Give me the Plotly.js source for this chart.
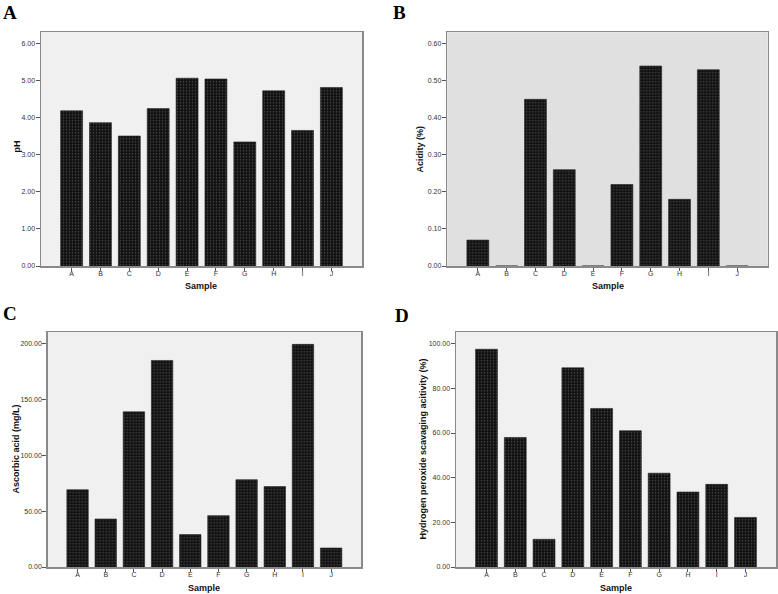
<!DOCTYPE html>
<html>
<head>
<meta charset="utf-8">
<script src="https://cdn.plot.ly/plotly-3.0.1.min.js"></script>
<style>html,body{margin:0;padding:0;background:#fff;}#chart{width:778px;height:594px;}</style>
</head>
<body>
<div id="chart"></div>
<script>
const samples = ["A","B","C","D","E","F","G","H","I","J"];
const phValues = [4.19, 3.87, 3.51, 4.25, 5.07, 5.05, 3.35, 4.73, 3.66, 4.82];
const acidityValues = [0.07, 0.0, 0.45, 0.26, 0.0, 0.22, 0.54, 0.18, 0.53, 0.0];
const ascorbicValues = [69.2, 43.0, 139.0, 185.0, 29.0, 46.0, 78.2, 72.0, 199.4, 17.0];
const peroxideValues = [97.5, 58.0, 12.4, 89.2, 71.0, 61.0, 42.0, 33.6, 37.0, 22.2];
const yTickValsA = [0, 1, 2, 3, 4, 5, 6];
const yTickValsB = [0, 0.1, 0.2, 0.3, 0.4, 0.5, 0.6];
const yTickValsC = [0, 50, 100, 150, 200];
const yTickValsD = [0, 20, 40, 60, 80, 100];
const xTitle = "Sample";
const yTitles = ["pH", "Acidity (%)", "Ascorbic acid (mg/L)", "Hydrogen peroxide scavaging acitivity (%)"];
const panelLetters = ["A", "B", "C", "D"];

const W = 778, H = 594;
const px = v => v / W;
const py = v => 1 - v / H;

function barTrace(vals, xa, ya) {
  return {
    type: 'bar', x: samples, y: vals, xaxis: xa, yaxis: ya, width: 0.76,
    marker: {
      color: '#111111',
      line: {color: '#222', width: 0.6},
      pattern: {shape: '.', fgcolor: '#4c4c4c', bgcolor: '#111111', size: 3, solidity: 0.22}
    },
    hoverinfo: 'skip', showlegend: false
  };
}

const tickFont = {family: 'Liberation Sans, Arial, sans-serif', size: 7, color: '#333'};
const titleFont = {family: 'Liberation Sans, Arial, sans-serif', size: 9, color: '#111', weight: 'bold'};

function xAxis(dom, anchor) {
  return {
    domain: dom, anchor: anchor, type: 'category', range: [-1.06, 10.06],
    showline: true, linecolor: '#8a8a8a', linewidth: 1.5, mirror: true,
    ticks: 'outside', ticklen: 3, tickcolor: '#555', tickwidth: 1,
    ticklabelstandoff: -3,
    showgrid: false, zeroline: false, tickfont: tickFont
  };
}
function yAxis(dom, anchor, range, tv) {
  return {
    domain: dom, anchor: anchor, range: range, tickvals: tv, tickformat: '.2f',
    showline: true, linecolor: '#8a8a8a', linewidth: 1.5, mirror: true,
    ticks: 'outside', ticklen: 4, tickcolor: '#555', tickwidth: 1,
    ticklabelstandoff: -1,
    showgrid: false, zeroline: false, tickfont: tickFont
  };
}

const data = [
  barTrace(phValues, 'x', 'y'),
  barTrace(acidityValues, 'x2', 'y2'),
  barTrace(ascorbicValues, 'x3', 'y3'),
  barTrace(peroxideValues, 'x4', 'y4')
];

const topDom = [py(266), py(32.3)];
const botDom = [py(567), py(332.3)];

const letterFont = {family: 'Liberation Serif, Times New Roman, serif', size: 19, color: '#000', weight: 'bold'};
function letter(t, x, y) {
  return {text: '<b>' + t + '</b>', xref: 'paper', yref: 'paper', x: px(x), y: py(y),
    xanchor: 'left', yanchor: 'top', showarrow: false, font: letterFont};
}
function xt(cx, cy) {
  return {text: '<b>' + xTitle + '</b>', xref: 'paper', yref: 'paper', x: px(cx), y: py(cy),
    xanchor: 'center', yanchor: 'middle', showarrow: false, font: titleFont};
}
function yt(t, cx, cy) {
  return {text: '<b>' + t + '</b>', xref: 'paper', yref: 'paper', x: px(cx), y: py(cy),
    xanchor: 'center', yanchor: 'middle', textangle: -90, showarrow: false, font: titleFont};
}

const layout = {
  width: W, height: H,
  margin: {l: 0, r: 0, t: 0, b: 0},
  paper_bgcolor: '#ffffff',
  plot_bgcolor: '#f0f0f0',
  showlegend: false,
  xaxis: xAxis([px(41), px(362)], 'y'),
  yaxis: yAxis(topDom, 'x', [0, 6.31], yTickValsA),
  xaxis2: xAxis([px(447.3), px(767.7)], 'y2'),
  yaxis2: yAxis(topDom, 'x2', [0, 0.631], yTickValsB),
  xaxis3: xAxis([px(47.7), px(361)], 'y3'),
  yaxis3: yAxis(botDom, 'x3', [0, 210.2], yTickValsC),
  xaxis4: xAxis([px(456), px(776)], 'y4'),
  yaxis4: yAxis(botDom, 'x4', [0, 105.1], yTickValsD),
  shapes: [],
  annotations: [
    letter(panelLetters[0], 1, 0),
    letter(panelLetters[1], 391, 0),
    letter(panelLetters[2], 1, 301),
    letter(panelLetters[3], 393, 303),
    xt((41 + 362) / 2, 286),
    xt((447.3 + 767.7) / 2, 286),
    xt((47.7 + 361) / 2, 587.5),
    xt((456 + 776) / 2, 587.5),
    yt(yTitles[0], 16.5, 147),
    yt(yTitles[1], 419.5, 149),
    yt(yTitles[2], 15.5, 449),
    yt(yTitles[3], 422.5, 449)
  ]
};

const bgColors = ['#f0f0f0', '#e0e0e0', '#f0f0f0', '#f0f0f0'];
const refs = [['x domain', 'y domain'], ['x2 domain', 'y2 domain'], ['x3 domain', 'y3 domain'], ['x4 domain', 'y4 domain']];
refs.forEach((r, i) => layout.shapes.push({type: 'rect', xref: r[0], yref: r[1],
  x0: 0, x1: 1, y0: 0, y1: 1, fillcolor: bgColors[i], line: {width: 0}, layer: 'below'}));

Plotly.newPlot('chart', data, layout, {staticPlot: true, displayModeBar: false});
</script>
</body>
</html>
